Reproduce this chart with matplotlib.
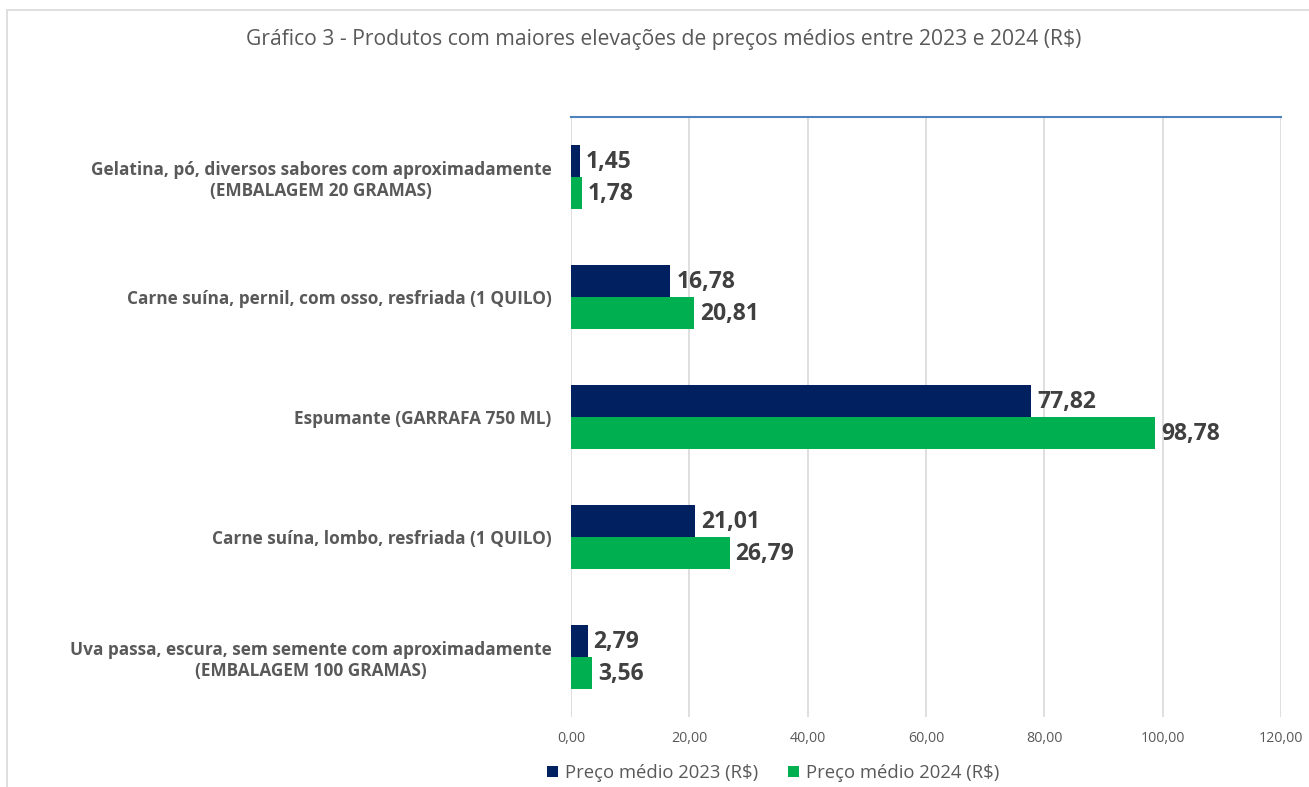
import numpy as np
import matplotlib.pyplot as plt
from matplotlib.patches import Rectangle

produtos = [
    "Gelatina, pó, diversos sabores com aproximadamente\n(EMBALAGEM 20 GRAMAS)",
    "Carne suína, pernil, com osso, resfriada (1 QUILO)",
    "Espumante (GARRAFA 750 ML)",
    "Carne suína, lombo, resfriada (1 QUILO)",
    "Uva passa, escura, sem semente com aproximadamente\n(EMBALAGEM 100 GRAMAS)",
]
preco_2023 = [1.45, 16.78, 77.82, 21.01, 2.79]
preco_2024 = [1.78, 20.81, 98.78, 26.79, 3.56]
ticks = [0, 20, 40, 60, 80, 100, 120]

cor_2023 = "#002060"
cor_2024 = "#00B050"
cinza = "#595959"

plt.rcParams['font.family'] = ['Open Sans', 'DejaVu Sans']

fig = plt.figure(figsize=(13.09, 7.87), dpi=100)
ax = fig.add_axes([571 / 1309, 1 - 717 / 787, 710 / 1309, 600 / 787])

y = np.arange(len(produtos))
h = 0.265
b1 = ax.barh(y - h / 2, preco_2023, height=h, color=cor_2023, label="Preço médio 2023 (R$)")
b2 = ax.barh(y + h / 2, preco_2024, height=h, color=cor_2024, label="Preço médio 2024 (R$)")

def fmt(v):
    return f"{v:.2f}".replace(".", ",")

for bars, vals in ((b1, preco_2023), (b2, preco_2024)):
    for bar, v in zip(bars, vals):
        ax.text(v + 1.0, bar.get_y() + bar.get_height() / 2 + 0.01, fmt(v),
                va="center", ha="left", fontsize=16.5, fontweight="bold", color="#404040")

ax.set_ylim(len(produtos) - 0.5, -0.5)
ax.set_xlim(0, 120)
ax.set_xticks(ticks)
ax.set_xticklabels([fmt(t) for t in ticks], fontsize=10.3, color=cinza)
ax.set_yticks(y)
ax.set_yticklabels(produtos, fontsize=12.4, fontweight="bold", color=cinza,
                   ha="right", multialignment="center")
ax.tick_params(axis="y", length=0, pad=14)
ax.tick_params(axis="x", length=0, pad=10)

ax.grid(axis="x", color="#D9D9D9", linewidth=1.2)
ax.set_axisbelow(True)
for s in ("left", "right", "bottom"):
    ax.spines[s].set_visible(False)
ax.spines["top"].set_color("#4F81BD")
ax.spines["top"].set_linewidth(1.5)

fig.text(664 / 1309, 1 - 40 / 787,
         "Gráfico 3 - Produtos com maiores elevações de preços médios entre 2023 e 2024 (R$)",
         ha="center", va="center", fontsize=15.2, color=cinza)

fig.legend(handles=[b1, b2], loc="center", bbox_to_anchor=(773 / 1309, 1 - 773 / 787),
           ncol=2, frameon=False, fontsize=13.3, labelcolor=cinza,
           handlelength=0.6, handleheight=0.6, handletextpad=0.4, columnspacing=1.6)

fig.patches.append(Rectangle((7 / 1309, -0.1), 1.2, 1 - 10 / 787 + 0.1,
                             transform=fig.transFigure, fill=False,
                             edgecolor="#D9D9D9", linewidth=1.2))

fig.savefig("out.png", dpi=100)
